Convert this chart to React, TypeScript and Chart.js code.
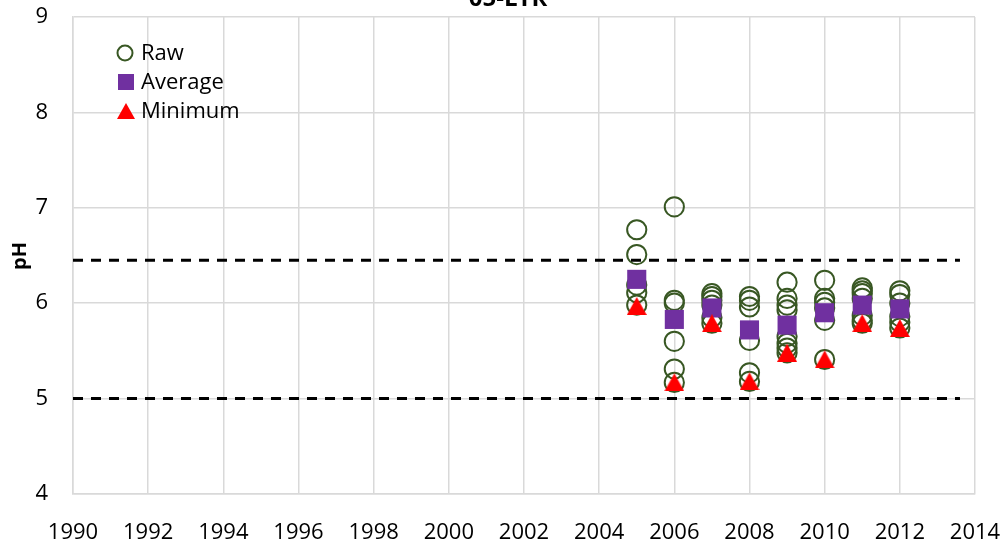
import React, { useEffect, useRef } from "react";
import { Chart, registerables } from "chart.js";

Chart.register(...registerables);

const titleText = "05-LTR";
const yAxisTitle = "pH";
const legendLabels = ["Raw", "Average", "Minimum"];

const xTicks = { min: 1990, max: 2014, step: 2 };
const yTicks = { min: 4, max: 9, step: 1 };

const rawYears = [2005, 2006, 2007, 2008, 2009, 2010, 2011, 2012];
const rawValues = [
  [6.77, 6.51, 6.19, 6.11, 5.98],
  [7.01, 6.03, 6.0, 5.6, 5.31, 5.17],
  [6.1, 6.07, 6.03, 5.98, 5.85, 5.79],
  [6.07, 6.03, 5.96, 5.61, 5.27, 5.18],
  [6.22, 6.05, 5.98, 5.93, 5.65, 5.58, 5.53, 5.48],
  [6.24, 6.05, 6.01, 5.95, 5.82, 5.41],
  [6.16, 6.13, 6.1, 6.05, 5.87, 5.82, 5.79],
  [6.13, 6.09, 6.0, 5.86, 5.8, 5.74],
];
const averageValues = [6.25, 5.83, 5.95, 5.72, 5.77, 5.9, 5.98, 5.94];
const minimumValues = [5.97, 5.17, 5.79, 5.18, 5.48, 5.41, 5.79, 5.74];

const limitUpper = 6.45;
const limitLower = 5.0;
const limitXRange = [1990, 2013.6];

const FONT = "'Open Sans', 'Liberation Sans', sans-serif";
const GREEN = "#385723";
const PURPLE = "#7030A0";
const RED = "#FF0000";

function makeTriangle(w: number, h: number, color: string) {
  const c = document.createElement("canvas");
  c.width = w;
  c.height = h;
  const ctx = c.getContext("2d")!;
  ctx.fillStyle = color;
  ctx.beginPath();
  ctx.moveTo(w / 2, 0);
  ctx.lineTo(w, h);
  ctx.lineTo(0, h);
  ctx.closePath();
  ctx.fill();
  return c;
}

const overlayPlugin = {
  id: "overlay",
  afterDraw(chart: any) {
    const ctx = chart.ctx as CanvasRenderingContext2D;
    ctx.save();
    // title (partly clipped at top, as in the reference)
    ctx.fillStyle = "#000";
    ctx.font = `bold 24px ${FONT}`;
    ctx.textAlign = "center";
    ctx.textBaseline = "alphabetic";
    ctx.fillText(titleText, 508, 6);

    // y axis title
    ctx.save();
    ctx.translate(20, 256);
    ctx.rotate(-Math.PI / 2);
    ctx.font = `bold 20px ${FONT}`;
    ctx.textAlign = "center";
    ctx.textBaseline = "middle";
    ctx.fillText(yAxisTitle, 0, 0);
    ctx.restore();

    // legend
    const lx = 126;
    const rows = [53, 82, 111];
    ctx.font = `22px ${FONT}`;
    ctx.textAlign = "left";
    ctx.textBaseline = "middle";
    ctx.strokeStyle = GREEN;
    ctx.lineWidth = 2;
    ctx.beginPath();
    ctx.arc(lx - 1, rows[0], 7.5, 0, Math.PI * 2);
    ctx.stroke();
    ctx.fillStyle = PURPLE;
    ctx.fillRect(lx - 8, rows[1] - 8, 16, 16);
    ctx.fillStyle = RED;
    ctx.beginPath();
    ctx.moveTo(lx, rows[2] - 8);
    ctx.lineTo(lx + 9, rows[2] + 8);
    ctx.lineTo(lx - 9, rows[2] + 8);
    ctx.closePath();
    ctx.fill();
    ctx.fillStyle = "#000";
    legendLabels.forEach((t, i) => ctx.fillText(t, 141, rows[i] + 1));
    ctx.restore();
  },
};

export default function App() {
  const ref = useRef<HTMLCanvasElement | null>(null);
  useEffect(() => {
    if (!ref.current) return;
    const rawPoints: { x: number; y: number }[] = [];
    rawYears.forEach((yr, i) => rawValues[i].forEach((v) => rawPoints.push({ x: yr, y: v })));
    const avgPoints = rawYears.map((yr, i) => ({ x: yr, y: averageValues[i] }));
    const minPoints = rawYears.map((yr, i) => ({ x: yr, y: minimumValues[i] }));
    const tri = makeTriangle(20, 18, RED);

    const chart = new Chart(ref.current, {
      type: "scatter",
      data: {
        datasets: [
          {
            label: "upper",
            data: limitXRange.map((x) => ({ x, y: limitUpper })),
            showLine: true,
            borderColor: "#000",
            borderWidth: 3,
            borderDash: [10, 8],
            pointRadius: 0,
          },
          {
            label: "lower",
            data: limitXRange.map((x) => ({ x, y: limitLower })),
            showLine: true,
            borderColor: "#000",
            borderWidth: 3,
            borderDash: [10, 8],
            pointRadius: 0,
          },
          {
            label: "Minimum",
            data: minPoints,
            pointStyle: tri as any,
            pointRadius: 10,
            backgroundColor: RED,
            borderColor: RED,
          },
          {
            label: "Average",
            data: avgPoints,
            pointStyle: "rect",
            pointRadius: 13.5,
            backgroundColor: PURPLE,
            borderColor: PURPLE,
            borderWidth: 0,
          },
          {
            label: "Raw",
            data: rawPoints,
            pointStyle: "circle",
            pointRadius: 9.6,
            borderWidth: 2,
            borderColor: GREEN,
            backgroundColor: "rgba(0,0,0,0)",
          },
        ],
      },
      options: {
        responsive: false,
        animation: false,
        layout: { padding: { top: 17, right: 31, bottom: 0, left: 0 } },
        plugins: {
          legend: { display: false },
          tooltip: { enabled: false },
          title: { display: false },
        },
        scales: {
          x: {
            type: "linear",
            min: xTicks.min,
            max: xTicks.max,
            afterFit: (s: any) => {
              s.height = 48;
              s.paddingLeft = 25;
              s.paddingRight = 25;
            },
            ticks: {
              stepSize: xTicks.step,
              color: "#000",
              font: { family: FONT, size: 22 },
              padding: 26,
              maxRotation: 0,
              callback: (v: any) => String(v),
            },
            grid: { color: "#D9D9D9", lineWidth: 1.5, drawTicks: false },
            border: { color: "#D9D9D9", width: 1.5 },
          },
          y: {
            type: "linear",
            min: yTicks.min,
            max: yTicks.max,
            afterFit: (s: any) => {
              s.width = 73;
              s.paddingTop = 13;
              s.paddingBottom = 13;
            },
            ticks: {
              stepSize: yTicks.step,
              color: "#000",
              font: { family: FONT, size: 22 },
              padding: 25,
            },
            grid: { color: "#D9D9D9", lineWidth: 1.5, drawTicks: false },
            border: { color: "#D9D9D9", width: 1.5 },
          },
        },
      },
      plugins: [overlayPlugin],
    } as any);
    return () => chart.destroy();
  }, []);

  return (
    <div style={{ position: "fixed", left: 0, top: 0, width: 1006, height: 542, background: "#fff" }}>
      <canvas ref={ref} width={1006} height={542} style={{ display: "block" }} />
    </div>
  );
}
